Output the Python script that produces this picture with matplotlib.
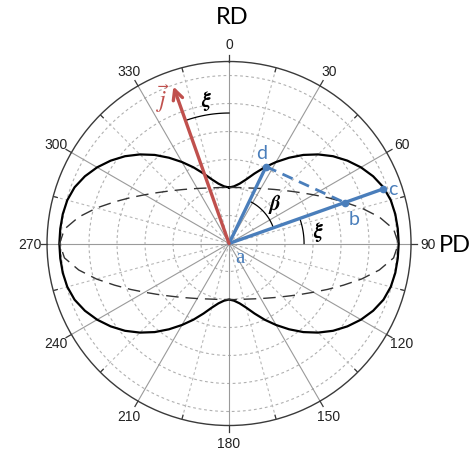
import numpy as np
import matplotlib
matplotlib.use("Agg")
import matplotlib.pyplot as plt

plt.rcParams["mathtext.fontset"] = "stix"

# ---- data ----
# polar angle measured clockwise from RD (degrees), first quadrant; shape is symmetric
quad_angles = [0, 5, 10, 15, 20, 25, 30, 35, 40, 45, 50, 55, 60, 65, 70, 75, 80, 85, 90]
solid_r = [2.0, 2.05, 2.17, 2.37, 2.66, 3.0, 3.36, 3.74, 4.13, 4.5, 4.85, 5.16,
           5.44, 5.68, 5.87, 5.98, 6.03, 6.05, 6.06]
dashed_r = [2.0, 2.01, 2.03, 2.06, 2.11, 2.18, 2.27, 2.38, 2.52, 2.69, 2.9, 3.16,
            3.48, 3.88, 4.35, 4.9, 5.45, 5.9, 6.05]

angle_ticks = [0, 30, 60, 90, 120, 150, 180, 210, 240, 270, 300, 330]
grid_radii = [1, 2, 3, 4, 5, 6]
r_max = 6.5

xi_deg = 19.5                 # angle ξ
point_c = (70.5, 5.85)        # (angle, r)
point_b = (70.5, 4.38)
point_d = (25.7, 3.05)
arrow_j = (340.5, 5.95)

BLUE = "#4a7ebb"
RED = "#c0504d"


def full_curve(q):
    q = list(q)
    return np.array(q + q[::-1][1:] + q[1:] + q[::-1][1:])


theta_full = np.deg2rad(np.arange(0, 361, 5))

fig = plt.figure(figsize=(4.73, 4.52), dpi=100)
ax = fig.add_axes([0.0994, 0.0564, 0.7696, 0.8053], projection="polar")
ax.set_theta_zero_location("N")
ax.set_theta_direction(-1)
ax.set_rlim(0, r_max)
ax.set_xticks([])
ax.set_yticks([])
ax.grid(False)
ax.spines["polar"].set_color("#3a3a3a")
ax.spines["polar"].set_linewidth(1.0)

# grid: dashed circles
tt = np.linspace(0, 2 * np.pi, 400)
for rg in grid_radii:
    ax.plot(tt, np.full_like(tt, rg), color="#b0b0b0", lw=0.8,
            linestyle=(0, (2.5, 2.5)), zorder=1)
# grid: spokes
for a in range(0, 360, 15):
    th = np.deg2rad(a)
    if a % 30 == 0:
        ax.plot([th, th], [0, r_max], color="#9a9a9a", lw=0.8, zorder=1)
        ax.plot([th, th], [r_max, r_max + 0.22], color="#3a3a3a", lw=0.9,
                clip_on=False, zorder=1)
    else:
        ax.plot([th, th], [0, r_max], color="#b8b8b8", lw=0.8,
                linestyle=(0, (2.5, 2.5)), zorder=1)
        ax.plot([th, th], [r_max - 0.15, r_max], color="#3a3a3a", lw=0.9, zorder=1)

# tick labels
for a in angle_ticks:
    ax.text(np.deg2rad(a), 7.12, str(a), ha="center", va="center",
            fontsize=10, family="Liberation Sans", color="#222222", clip_on=False)

# curves
ax.plot(theta_full, full_curve(solid_r), color="black", lw=1.6, zorder=3)
ax.plot(theta_full, full_curve(dashed_r), color="#333333", lw=1.0,
        linestyle=(0, (9, 5)), zorder=3)

# blue lines
tc, rc = np.deg2rad(point_c[0]), point_c[1]
tb, rb = np.deg2rad(point_b[0]), point_b[1]
td, rd = np.deg2rad(point_d[0]), point_d[1]
ax.plot([0, tc], [0, rc], color=BLUE, lw=2.4, zorder=5, solid_capstyle="round")
ax.plot([0, td], [0, rd], color=BLUE, lw=2.4, zorder=5, solid_capstyle="round")
ax.plot([td, tb], [rd, rb], color=BLUE, lw=2.0, linestyle=(0, (4, 2.5)), zorder=5)
ax.plot([tc, tb, td], [rc, rb, rd], "o", color=BLUE, ms=4.5, zorder=6)

# red arrow
ax.annotate("", xy=(np.deg2rad(arrow_j[0]), arrow_j[1]), xytext=(0, 0),
            arrowprops=dict(arrowstyle="->,head_length=0.7,head_width=0.35",
                            color=RED, lw=2.4, shrinkA=0, shrinkB=0), zorder=6)

# angle arcs
arc = np.deg2rad(np.linspace(360 - xi_deg, 360, 40))
ax.plot(arc, np.full_like(arc, 4.66), color="black", lw=0.9, zorder=4)
arc = np.deg2rad(np.linspace(point_d[0], point_c[0], 40))
ax.plot(arc, np.full_like(arc, 1.68), color="black", lw=0.9, zorder=4)
arc = np.deg2rad(np.linspace(point_c[0], 90, 40))
ax.plot(arc, np.full_like(arc, 2.68), color="black", lw=0.9, zorder=4)

# labels
ax.text(np.deg2rad(351), 5.2, r"$\boldsymbol{\xi}$", fontsize=15, ha="center",
        va="center", zorder=7)
ax.text(np.deg2rad(49.3), 2.17, r"$\boldsymbol{\beta}$", fontsize=15, ha="center",
        va="center", zorder=7)
ax.text(np.deg2rad(81.8), 3.22, r"$\boldsymbol{\xi}$", fontsize=15, ha="center",
        va="center", zorder=7)
ax.text(np.deg2rad(335.6), 5.73, r"$\vec{j}$", fontsize=17, color=RED,
        ha="center", va="center", zorder=7)
ax.text(np.deg2rad(143), 0.62, "a", fontsize=15, family="Liberation Serif",
        color=BLUE, ha="center", va="center", zorder=7)
ax.text(np.deg2rad(78.5), 4.55, "b", fontsize=14, family="Lato",
        color=BLUE, ha="center", va="center", zorder=7)
ax.text(np.deg2rad(71.5), 6.18, "c", fontsize=14, family="Lato",
        color=BLUE, ha="center", va="center", zorder=7)
ax.text(np.deg2rad(20), 3.45, "d", fontsize=14, family="Lato",
        color=BLUE, ha="center", va="center", zorder=7)

fig.text(232 / 473, 1 - 18 / 452, "RD", fontsize=17, family="Lato",
         ha="center", va="center")
fig.text(455 / 473, 1 - 246 / 452, "PD", fontsize=17, family="Lato",
         ha="center", va="center")

fig.savefig("out.png", dpi=100)
